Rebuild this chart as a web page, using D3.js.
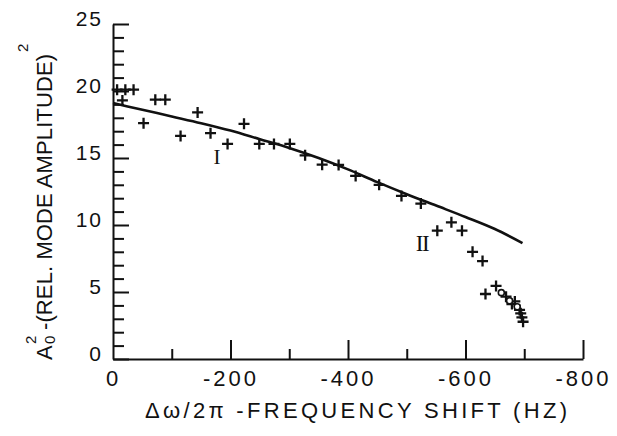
<!DOCTYPE html>
<html>
<head>
<meta charset="utf-8">
<script src="https://cdn.jsdelivr.net/npm/d3@7"></script>
<style>
  body { margin: 0; background: #fff; }
  svg { display: block; }
  .tick text { font-family: "Liberation Sans", Arial, sans-serif; fill: #111; }
  .label { font-family: "Liberation Sans", Arial, sans-serif; fill: #111; }
  .roman { font-family: "Liberation Serif", serif; fill: #111; }
</style>
</head>
<body>
<script>
// measured points (+), frequency shift in Hz and relative mode amplitude squared
const pointShift = [-7, -21, -35, -16, -52, -72, -89, -115, -144, -166, -195, -223,
  -249, -274, -301, -327, -356, -384, -413, -453, -491, -524, -552, -576, -594,
  -612, -629, -634, -652, -669, -679, -684, -692, -694, -696, -698];
const pointAmp = [20.1, 20.1, 20.1, 19.3, 17.6, 19.35, 19.35, 16.65, 18.4, 16.85,
  16.05, 17.55, 16.05, 16.05, 16.05, 15.2, 14.5, 14.48, 13.66, 13.0, 12.17, 11.6,
  9.58, 10.2, 9.58, 8.0, 7.31, 4.85, 5.45, 4.65, 4.1, 4.3, 3.66, 3.41, 3.11, 2.78];

// open circle points inside the last cluster
const circleShift = [-661, -675, -688];
const circleAmp = [4.95, 4.35, 3.9];

// solid theory curve
const curveShift = [0, -50, -100, -150, -200, -250, -300, -350, -400, -450, -500,
  -550, -600, -650, -697];
const curveAmp = [19.1, 18.6, 18.1, 17.6, 17.05, 16.4, 15.75, 15.0, 14.15, 13.2,
  12.3, 11.45, 10.6, 9.7, 8.65];

const xTicks = [0, -200, -400, -600, -800];
const xMinorTicks = [-100, -300, -500, -700];
const yTicks = [0, 5, 10, 15, 20, 25];
const yMinorTicks = d3.range(0, 26).filter((d) => d % 5 !== 0);

const width = 617;
const height = 436;

const svg = d3
  .select("body")
  .append("svg")
  .attr("width", width)
  .attr("height", height);

const x = d3.scaleLinear().domain([0, -800]).range([113, 583]);
const y = d3.scaleLinear().domain([0, 25]).range([359, 24]);

// stretch a text's letter spacing so its glyphs cover len px
function fitText(sel, len) {
  const node = sel.node();
  const natural = node.getComputedTextLength();
  const n = node.getNumberOfChars();
  sel.attr("letter-spacing", (len - natural) / (n - 1));
}

// y axis, ticks pointing into the plot
const yAxis = svg
  .append("g")
  .attr("transform", `translate(${x(0)},0)`)
  .call(
    d3.axisLeft(y).tickValues(yTicks).tickSize(-16).tickSizeOuter(0)
      .tickPadding(10).tickFormat((d) => String(d))
  );
yAxis.selectAll("text").attr("font-size", 21).attr("letter-spacing", 2).attr("dy", "0.07em");

svg
  .append("g")
  .attr("transform", `translate(${x(0)},0)`)
  .call(d3.axisLeft(y).tickValues(yMinorTicks).tickSize(-11).tickFormat(""))
  .call((g) => g.select(".domain").remove());

// x axis, ticks pointing up
const xAxis = svg
  .append("g")
  .attr("transform", `translate(0,${y(0)})`)
  .call(
    d3.axisBottom(x).tickValues(xTicks).tickSize(-19).tickSizeOuter(0)
      .tickPadding(11).tickFormat((d) => String(d))
  );
xAxis.selectAll("text").attr("font-size", 22).attr("letter-spacing", 3);
xAxis.selectAll(".tick").filter((d) => d === 0).select("line").remove();

svg
  .append("g")
  .attr("transform", `translate(0,${y(0)})`)
  .call(d3.axisBottom(x).tickValues(xMinorTicks).tickSize(-10).tickFormat(""))
  .call((g) => g.select(".domain").remove());

svg.selectAll(".domain, .tick line").attr("stroke", "#111").attr("stroke-width", 2);

// curve
const curveData = curveShift.map((s, i) => ({ s: s, a: curveAmp[i] }));
svg
  .append("path")
  .datum(curveData)
  .attr("fill", "none")
  .attr("stroke", "#111")
  .attr("stroke-width", 2.6)
  .attr(
    "d",
    d3
      .line()
      .curve(d3.curveMonotoneX)
      .x((d) => x(d.s))
      .y((d) => y(d.a))
  );

// crosses
const pointData = pointShift.map((s, i) => ({ s: s, a: pointAmp[i] }));
svg
  .append("g")
  .selectAll("path")
  .data(pointData)
  .join("path")
  .attr("transform", (d) => `translate(${x(d.s)},${y(d.a)})`)
  .attr("d", "M-5.5,0H5.5M0,-5.5V5.5")
  .attr("stroke", "#111")
  .attr("stroke-width", 2.3);

const circleData = circleShift.map((s, i) => ({ s: s, a: circleAmp[i] }));
svg
  .append("g")
  .selectAll("circle")
  .data(circleData)
  .join("circle")
  .attr("cx", (d) => x(d.s))
  .attr("cy", (d) => y(d.a))
  .attr("r", 3)
  .attr("fill", "#fff")
  .attr("stroke", "#111")
  .attr("stroke-width", 1.6);

// curve labels
svg.append("text").attr("class", "roman").attr("x", 217).attr("y", 164)
  .attr("text-anchor", "middle").attr("font-size", 21).text("I");
svg.append("text").attr("class", "roman").attr("x", 422).attr("y", 251)
  .attr("text-anchor", "middle").attr("font-size", 23).attr("letter-spacing", -1.5).text("II");

// x title
const xTitle = svg
  .append("text")
  .attr("class", "label")
  .attr("x", 145)
  .attr("y", 418)
  .attr("font-size", 22)
  .text("\u0394\u03c9/2\u03c0 -FREQUENCY SHIFT (HZ)");
fitText(xTitle, 422);

// y title, rotated
const yTitle = svg.append("g").attr("transform", "translate(52,360) rotate(-90)");
yTitle.append("text").attr("class", "label").attr("x", 0).attr("y", 0)
  .attr("font-size", 22).text("A");
yTitle.append("text").attr("class", "label").attr("x", 16).attr("y", -16)
  .attr("font-size", 15).text("2");
yTitle.append("text").attr("class", "label").attr("x", 16).attr("y", 3)
  .attr("font-size", 15).text("0");
const yMain = yTitle
  .append("text")
  .attr("class", "label")
  .attr("x", 30)
  .attr("y", 0)
  .attr("font-size", 22)
  .text("-(REL. MODE AMPLITUDE)");
fitText(yMain, 276);
yTitle.append("text").attr("class", "label").attr("x", 30 + 276 + 2).attr("y", -24)
  .attr("font-size", 15).text("2");
</script>
</body>
</html>
